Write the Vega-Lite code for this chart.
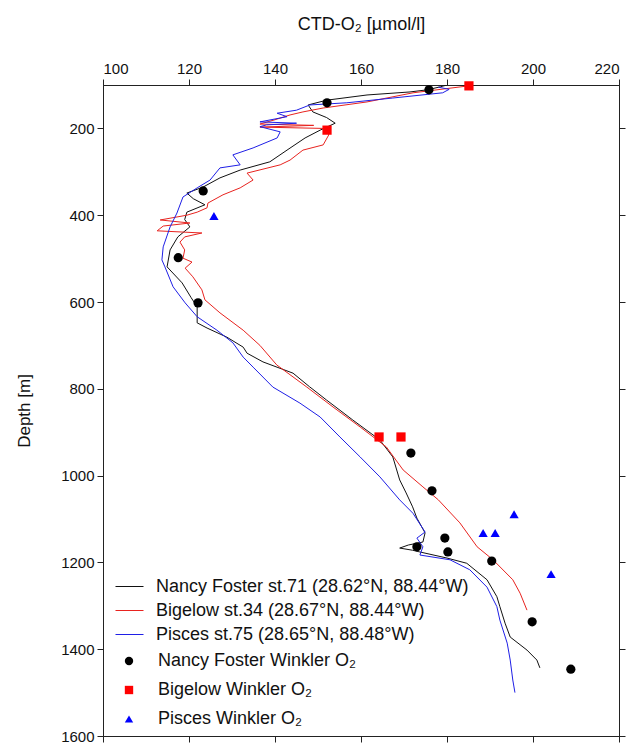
{
  "$schema": "https://vega.github.io/schema/vega-lite/v6.json",
  "autosize": "none",
  "width": 516,
  "height": 651,
  "padding": {"left": 103, "top": 85, "right": 17, "bottom": 13},
  "background": "white",
  "datasets": {
    "ctd": [
      {"series": "Nancy Foster st.71 (28.62°N, 88.44°W)", "depth": 100, "o2": 180},
      {"series": "Nancy Foster st.71 (28.62°N, 88.44°W)", "depth": 104, "o2": 178.5},
      {"series": "Nancy Foster st.71 (28.62°N, 88.44°W)", "depth": 111, "o2": 175.5},
      {"series": "Nancy Foster st.71 (28.62°N, 88.44°W)", "depth": 116, "o2": 171.4},
      {"series": "Nancy Foster st.71 (28.62°N, 88.44°W)", "depth": 123, "o2": 161.4},
      {"series": "Nancy Foster st.71 (28.62°N, 88.44°W)", "depth": 135, "o2": 152},
      {"series": "Nancy Foster st.71 (28.62°N, 88.44°W)", "depth": 146, "o2": 147.7},
      {"series": "Nancy Foster st.71 (28.62°N, 88.44°W)", "depth": 162, "o2": 148.8},
      {"series": "Nancy Foster st.71 (28.62°N, 88.44°W)", "depth": 175, "o2": 152},
      {"series": "Nancy Foster st.71 (28.62°N, 88.44°W)", "depth": 188, "o2": 154},
      {"series": "Nancy Foster st.71 (28.62°N, 88.44°W)", "depth": 204, "o2": 150.5},
      {"series": "Nancy Foster st.71 (28.62°N, 88.44°W)", "depth": 222, "o2": 147},
      {"series": "Nancy Foster st.71 (28.62°N, 88.44°W)", "depth": 250, "o2": 142.8},
      {"series": "Nancy Foster st.71 (28.62°N, 88.44°W)", "depth": 277, "o2": 138.8},
      {"series": "Nancy Foster st.71 (28.62°N, 88.44°W)", "depth": 296, "o2": 131.9},
      {"series": "Nancy Foster st.71 (28.62°N, 88.44°W)", "depth": 314, "o2": 127.2},
      {"series": "Nancy Foster st.71 (28.62°N, 88.44°W)", "depth": 335, "o2": 123.3},
      {"series": "Nancy Foster st.71 (28.62°N, 88.44°W)", "depth": 349, "o2": 119.5},
      {"series": "Nancy Foster st.71 (28.62°N, 88.44°W)", "depth": 362, "o2": 121},
      {"series": "Nancy Foster st.71 (28.62°N, 88.44°W)", "depth": 376, "o2": 123.7},
      {"series": "Nancy Foster st.71 (28.62°N, 88.44°W)", "depth": 393, "o2": 119.5},
      {"series": "Nancy Foster st.71 (28.62°N, 88.44°W)", "depth": 410, "o2": 119},
      {"series": "Nancy Foster st.71 (28.62°N, 88.44°W)", "depth": 427, "o2": 120.2},
      {"series": "Nancy Foster st.71 (28.62°N, 88.44°W)", "depth": 450, "o2": 117.4},
      {"series": "Nancy Foster st.71 (28.62°N, 88.44°W)", "depth": 480, "o2": 115.6},
      {"series": "Nancy Foster st.71 (28.62°N, 88.44°W)", "depth": 519, "o2": 114.9},
      {"series": "Nancy Foster st.71 (28.62°N, 88.44°W)", "depth": 556, "o2": 118.4},
      {"series": "Nancy Foster st.71 (28.62°N, 88.44°W)", "depth": 590, "o2": 120.5},
      {"series": "Nancy Foster st.71 (28.62°N, 88.44°W)", "depth": 611, "o2": 121.9},
      {"series": "Nancy Foster st.71 (28.62°N, 88.44°W)", "depth": 648, "o2": 121.9},
      {"series": "Nancy Foster st.71 (28.62°N, 88.44°W)", "depth": 660, "o2": 124.2},
      {"series": "Nancy Foster st.71 (28.62°N, 88.44°W)", "depth": 681, "o2": 128.8},
      {"series": "Nancy Foster st.71 (28.62°N, 88.44°W)", "depth": 704, "o2": 132.6},
      {"series": "Nancy Foster st.71 (28.62°N, 88.44°W)", "depth": 718, "o2": 133.5},
      {"series": "Nancy Foster st.71 (28.62°N, 88.44°W)", "depth": 738, "o2": 137.2},
      {"series": "Nancy Foster st.71 (28.62°N, 88.44°W)", "depth": 764, "o2": 144.2},
      {"series": "Nancy Foster st.71 (28.62°N, 88.44°W)", "depth": 795, "o2": 148},
      {"series": "Nancy Foster st.71 (28.62°N, 88.44°W)", "depth": 826, "o2": 152},
      {"series": "Nancy Foster st.71 (28.62°N, 88.44°W)", "depth": 872, "o2": 158.1},
      {"series": "Nancy Foster st.71 (28.62°N, 88.44°W)", "depth": 918, "o2": 164.4},
      {"series": "Nancy Foster st.71 (28.62°N, 88.44°W)", "depth": 957, "o2": 167.4},
      {"series": "Nancy Foster st.71 (28.62°N, 88.44°W)", "depth": 1010, "o2": 169},
      {"series": "Nancy Foster st.71 (28.62°N, 88.44°W)", "depth": 1040, "o2": 170.5},
      {"series": "Nancy Foster st.71 (28.62°N, 88.44°W)", "depth": 1072, "o2": 172},
      {"series": "Nancy Foster st.71 (28.62°N, 88.44°W)", "depth": 1098, "o2": 173},
      {"series": "Nancy Foster st.71 (28.62°N, 88.44°W)", "depth": 1132, "o2": 174.9},
      {"series": "Nancy Foster st.71 (28.62°N, 88.44°W)", "depth": 1153, "o2": 174.4},
      {"series": "Nancy Foster st.71 (28.62°N, 88.44°W)", "depth": 1160, "o2": 171},
      {"series": "Nancy Foster st.71 (28.62°N, 88.44°W)", "depth": 1167, "o2": 169},
      {"series": "Nancy Foster st.71 (28.62°N, 88.44°W)", "depth": 1172, "o2": 172},
      {"series": "Nancy Foster st.71 (28.62°N, 88.44°W)", "depth": 1176, "o2": 173.7},
      {"series": "Nancy Foster st.71 (28.62°N, 88.44°W)", "depth": 1190, "o2": 180},
      {"series": "Nancy Foster st.71 (28.62°N, 88.44°W)", "depth": 1202, "o2": 184.6},
      {"series": "Nancy Foster st.71 (28.62°N, 88.44°W)", "depth": 1240, "o2": 189.3},
      {"series": "Nancy Foster st.71 (28.62°N, 88.44°W)", "depth": 1279, "o2": 191.6},
      {"series": "Nancy Foster st.71 (28.62°N, 88.44°W)", "depth": 1302, "o2": 192.3},
      {"series": "Nancy Foster st.71 (28.62°N, 88.44°W)", "depth": 1340, "o2": 193.5},
      {"series": "Nancy Foster st.71 (28.62°N, 88.44°W)", "depth": 1372, "o2": 194.7},
      {"series": "Nancy Foster st.71 (28.62°N, 88.44°W)", "depth": 1402, "o2": 198.6},
      {"series": "Nancy Foster st.71 (28.62°N, 88.44°W)", "depth": 1425, "o2": 200.9},
      {"series": "Nancy Foster st.71 (28.62°N, 88.44°W)", "depth": 1443, "o2": 201.6},

      {"series": "Bigelow st.34 (28.67°N, 88.44°W)", "depth": 102, "o2": 185},
      {"series": "Bigelow st.34 (28.67°N, 88.44°W)", "depth": 118, "o2": 172.1},
      {"series": "Bigelow st.34 (28.67°N, 88.44°W)", "depth": 139, "o2": 161.4},
      {"series": "Bigelow st.34 (28.67°N, 88.44°W)", "depth": 153, "o2": 151.2},
      {"series": "Bigelow st.34 (28.67°N, 88.44°W)", "depth": 162, "o2": 146.5},
      {"series": "Bigelow st.34 (28.67°N, 88.44°W)", "depth": 169, "o2": 143.5},
      {"series": "Bigelow st.34 (28.67°N, 88.44°W)", "depth": 180, "o2": 140},
      {"series": "Bigelow st.34 (28.67°N, 88.44°W)", "depth": 190, "o2": 136.5},
      {"series": "Bigelow st.34 (28.67°N, 88.44°W)", "depth": 193, "o2": 149},
      {"series": "Bigelow st.34 (28.67°N, 88.44°W)", "depth": 197, "o2": 136.5},
      {"series": "Bigelow st.34 (28.67°N, 88.44°W)", "depth": 200, "o2": 151},
      {"series": "Bigelow st.34 (28.67°N, 88.44°W)", "depth": 204, "o2": 152},
      {"series": "Bigelow st.34 (28.67°N, 88.44°W)", "depth": 215, "o2": 152.5},
      {"series": "Bigelow st.34 (28.67°N, 88.44°W)", "depth": 238, "o2": 151.2},
      {"series": "Bigelow st.34 (28.67°N, 88.44°W)", "depth": 250, "o2": 146.5},
      {"series": "Bigelow st.34 (28.67°N, 88.44°W)", "depth": 273, "o2": 143.5},
      {"series": "Bigelow st.34 (28.67°N, 88.44°W)", "depth": 284, "o2": 141.2},
      {"series": "Bigelow st.34 (28.67°N, 88.44°W)", "depth": 303, "o2": 133.5},
      {"series": "Bigelow st.34 (28.67°N, 88.44°W)", "depth": 319, "o2": 134.9},
      {"series": "Bigelow st.34 (28.67°N, 88.44°W)", "depth": 337, "o2": 131.9},
      {"series": "Bigelow st.34 (28.67°N, 88.44°W)", "depth": 353, "o2": 127.9},
      {"series": "Bigelow st.34 (28.67°N, 88.44°W)", "depth": 372, "o2": 124.4},
      {"series": "Bigelow st.34 (28.67°N, 88.44°W)", "depth": 383, "o2": 124.2},
      {"series": "Bigelow st.34 (28.67°N, 88.44°W)", "depth": 393, "o2": 121.9},
      {"series": "Bigelow st.34 (28.67°N, 88.44°W)", "depth": 400, "o2": 119.5},
      {"series": "Bigelow st.34 (28.67°N, 88.44°W)", "depth": 411, "o2": 113.3},
      {"series": "Bigelow st.34 (28.67°N, 88.44°W)", "depth": 418, "o2": 120.2},
      {"series": "Bigelow st.34 (28.67°N, 88.44°W)", "depth": 425, "o2": 114},
      {"series": "Bigelow st.34 (28.67°N, 88.44°W)", "depth": 436, "o2": 112.6},
      {"series": "Bigelow st.34 (28.67°N, 88.44°W)", "depth": 441, "o2": 123},
      {"series": "Bigelow st.34 (28.67°N, 88.44°W)", "depth": 450, "o2": 119},
      {"series": "Bigelow st.34 (28.67°N, 88.44°W)", "depth": 462, "o2": 117.9},
      {"series": "Bigelow st.34 (28.67°N, 88.44°W)", "depth": 480, "o2": 119},
      {"series": "Bigelow st.34 (28.67°N, 88.44°W)", "depth": 499, "o2": 118.6},
      {"series": "Bigelow st.34 (28.67°N, 88.44°W)", "depth": 508, "o2": 120.7},
      {"series": "Bigelow st.34 (28.67°N, 88.44°W)", "depth": 522, "o2": 119.1},
      {"series": "Bigelow st.34 (28.67°N, 88.44°W)", "depth": 542, "o2": 120.9},
      {"series": "Bigelow st.34 (28.67°N, 88.44°W)", "depth": 572, "o2": 123},
      {"series": "Bigelow st.34 (28.67°N, 88.44°W)", "depth": 595, "o2": 123.7},
      {"series": "Bigelow st.34 (28.67°N, 88.44°W)", "depth": 625, "o2": 127.2},
      {"series": "Bigelow st.34 (28.67°N, 88.44°W)", "depth": 665, "o2": 132.6},
      {"series": "Bigelow st.34 (28.67°N, 88.44°W)", "depth": 700, "o2": 136.5},
      {"series": "Bigelow st.34 (28.67°N, 88.44°W)", "depth": 745, "o2": 140.4},
      {"series": "Bigelow st.34 (28.67°N, 88.44°W)", "depth": 796, "o2": 147.4},
      {"series": "Bigelow st.34 (28.67°N, 88.44°W)", "depth": 842, "o2": 153.5},
      {"series": "Bigelow st.34 (28.67°N, 88.44°W)", "depth": 888, "o2": 159.8},
      {"series": "Bigelow st.34 (28.67°N, 88.44°W)", "depth": 934, "o2": 165.9},
      {"series": "Bigelow st.34 (28.67°N, 88.44°W)", "depth": 987, "o2": 169.8},
      {"series": "Bigelow st.34 (28.67°N, 88.44°W)", "depth": 1026, "o2": 174.4},
      {"series": "Bigelow st.34 (28.67°N, 88.44°W)", "depth": 1056, "o2": 178},
      {"series": "Bigelow st.34 (28.67°N, 88.44°W)", "depth": 1109, "o2": 183},
      {"series": "Bigelow st.34 (28.67°N, 88.44°W)", "depth": 1164, "o2": 187},
      {"series": "Bigelow st.34 (28.67°N, 88.44°W)", "depth": 1194, "o2": 190.7},
      {"series": "Bigelow st.34 (28.67°N, 88.44°W)", "depth": 1240, "o2": 195.3},
      {"series": "Bigelow st.34 (28.67°N, 88.44°W)", "depth": 1271, "o2": 197},
      {"series": "Bigelow st.34 (28.67°N, 88.44°W)", "depth": 1310, "o2": 198.6},

      {"series": "Pisces st.75 (28.65°N, 88.48°W)", "depth": 105, "o2": 178},
      {"series": "Pisces st.75 (28.65°N, 88.48°W)", "depth": 110, "o2": 180.5},
      {"series": "Pisces st.75 (28.65°N, 88.48°W)", "depth": 118, "o2": 179},
      {"series": "Pisces st.75 (28.65°N, 88.48°W)", "depth": 130, "o2": 167.4},
      {"series": "Pisces st.75 (28.65°N, 88.48°W)", "depth": 141, "o2": 156.7},
      {"series": "Pisces st.75 (28.65°N, 88.48°W)", "depth": 146, "o2": 148.1},
      {"series": "Pisces st.75 (28.65°N, 88.48°W)", "depth": 158, "o2": 145},
      {"series": "Pisces st.75 (28.65°N, 88.48°W)", "depth": 165, "o2": 140.5},
      {"series": "Pisces st.75 (28.65°N, 88.48°W)", "depth": 173, "o2": 142.8},
      {"series": "Pisces st.75 (28.65°N, 88.48°W)", "depth": 185, "o2": 136.5},
      {"series": "Pisces st.75 (28.65°N, 88.48°W)", "depth": 188, "o2": 145},
      {"series": "Pisces st.75 (28.65°N, 88.48°W)", "depth": 192, "o2": 138},
      {"series": "Pisces st.75 (28.65°N, 88.48°W)", "depth": 196, "o2": 136.5},
      {"series": "Pisces st.75 (28.65°N, 88.48°W)", "depth": 208, "o2": 141.2},
      {"series": "Pisces st.75 (28.65°N, 88.48°W)", "depth": 222, "o2": 140.5},
      {"series": "Pisces st.75 (28.65°N, 88.48°W)", "depth": 245, "o2": 134.9},
      {"series": "Pisces st.75 (28.65°N, 88.48°W)", "depth": 261, "o2": 130.2},
      {"series": "Pisces st.75 (28.65°N, 88.48°W)", "depth": 284, "o2": 131.9},
      {"series": "Pisces st.75 (28.65°N, 88.48°W)", "depth": 291, "o2": 127.2},
      {"series": "Pisces st.75 (28.65°N, 88.48°W)", "depth": 319, "o2": 124.9},
      {"series": "Pisces st.75 (28.65°N, 88.48°W)", "depth": 337, "o2": 121.9},
      {"series": "Pisces st.75 (28.65°N, 88.48°W)", "depth": 358, "o2": 118.6},
      {"series": "Pisces st.75 (28.65°N, 88.48°W)", "depth": 395, "o2": 117.2},
      {"series": "Pisces st.75 (28.65°N, 88.48°W)", "depth": 427, "o2": 115.6},
      {"series": "Pisces st.75 (28.65°N, 88.48°W)", "depth": 473, "o2": 114},
      {"series": "Pisces st.75 (28.65°N, 88.48°W)", "depth": 503, "o2": 113.7},
      {"series": "Pisces st.75 (28.65°N, 88.48°W)", "depth": 519, "o2": 114.4},
      {"series": "Pisces st.75 (28.65°N, 88.48°W)", "depth": 565, "o2": 116.3},
      {"series": "Pisces st.75 (28.65°N, 88.48°W)", "depth": 602, "o2": 119.1},
      {"series": "Pisces st.75 (28.65°N, 88.48°W)", "depth": 634, "o2": 121.9},
      {"series": "Pisces st.75 (28.65°N, 88.48°W)", "depth": 665, "o2": 126.5},
      {"series": "Pisces st.75 (28.65°N, 88.48°W)", "depth": 694, "o2": 130.2},
      {"series": "Pisces st.75 (28.65°N, 88.48°W)", "depth": 727, "o2": 132.6},
      {"series": "Pisces st.75 (28.65°N, 88.48°W)", "depth": 750, "o2": 134.9},
      {"series": "Pisces st.75 (28.65°N, 88.48°W)", "depth": 796, "o2": 139.5},
      {"series": "Pisces st.75 (28.65°N, 88.48°W)", "depth": 833, "o2": 145.8},
      {"series": "Pisces st.75 (28.65°N, 88.48°W)", "depth": 865, "o2": 150.5},
      {"series": "Pisces st.75 (28.65°N, 88.48°W)", "depth": 911, "o2": 155.1},
      {"series": "Pisces st.75 (28.65°N, 88.48°W)", "depth": 957, "o2": 159.8},
      {"series": "Pisces st.75 (28.65°N, 88.48°W)", "depth": 1003, "o2": 164.4},
      {"series": "Pisces st.75 (28.65°N, 88.48°W)", "depth": 1056, "o2": 169},
      {"series": "Pisces st.75 (28.65°N, 88.48°W)", "depth": 1087, "o2": 172.1},
      {"series": "Pisces st.75 (28.65°N, 88.48°W)", "depth": 1130, "o2": 174.9},
      {"series": "Pisces st.75 (28.65°N, 88.48°W)", "depth": 1144, "o2": 173},
      {"series": "Pisces st.75 (28.65°N, 88.48°W)", "depth": 1164, "o2": 174.4},
      {"series": "Pisces st.75 (28.65°N, 88.48°W)", "depth": 1183, "o2": 173.7},
      {"series": "Pisces st.75 (28.65°N, 88.48°W)", "depth": 1194, "o2": 180.7},
      {"series": "Pisces st.75 (28.65°N, 88.48°W)", "depth": 1217, "o2": 185.3},
      {"series": "Pisces st.75 (28.65°N, 88.48°W)", "depth": 1257, "o2": 189.3},
      {"series": "Pisces st.75 (28.65°N, 88.48°W)", "depth": 1302, "o2": 191.6},
      {"series": "Pisces st.75 (28.65°N, 88.48°W)", "depth": 1333, "o2": 192.3},
      {"series": "Pisces st.75 (28.65°N, 88.48°W)", "depth": 1386, "o2": 194},
      {"series": "Pisces st.75 (28.65°N, 88.48°W)", "depth": 1425, "o2": 194.7},
      {"series": "Pisces st.75 (28.65°N, 88.48°W)", "depth": 1471, "o2": 195.3},
      {"series": "Pisces st.75 (28.65°N, 88.48°W)", "depth": 1500, "o2": 195.8}
    ],
    "winkler": [
      {"sample": "Nancy Foster Winkler O₂", "depth": 111, "o2": 175.8},
      {"sample": "Nancy Foster Winkler O₂", "depth": 141, "o2": 152.1},
      {"sample": "Nancy Foster Winkler O₂", "depth": 344, "o2": 123.3},
      {"sample": "Nancy Foster Winkler O₂", "depth": 498, "o2": 117.5},
      {"sample": "Nancy Foster Winkler O₂", "depth": 602, "o2": 122.1},
      {"sample": "Nancy Foster Winkler O₂", "depth": 948, "o2": 171.6},
      {"sample": "Nancy Foster Winkler O₂", "depth": 1035, "o2": 176.5},
      {"sample": "Nancy Foster Winkler O₂", "depth": 1144, "o2": 179.5},
      {"sample": "Nancy Foster Winkler O₂", "depth": 1176, "o2": 180.2},
      {"sample": "Nancy Foster Winkler O₂", "depth": 1164, "o2": 173},
      {"sample": "Nancy Foster Winkler O₂", "depth": 1197, "o2": 190.4},
      {"sample": "Nancy Foster Winkler O₂", "depth": 1337, "o2": 199.8},
      {"sample": "Nancy Foster Winkler O₂", "depth": 1446, "o2": 208.8},
      {"sample": "Bigelow Winkler O₂", "depth": 102, "o2": 185.1},
      {"sample": "Bigelow Winkler O₂", "depth": 204, "o2": 152.1},
      {"sample": "Bigelow Winkler O₂", "depth": 911, "o2": 164.2},
      {"sample": "Bigelow Winkler O₂", "depth": 911, "o2": 169.3},
      {"sample": "Pisces Winkler O₂", "depth": 402, "o2": 125.8},
      {"sample": "Pisces Winkler O₂", "depth": 1089, "o2": 195.6},
      {"sample": "Pisces Winkler O₂", "depth": 1132, "o2": 188.4},
      {"sample": "Pisces Winkler O₂", "depth": 1132, "o2": 191.2},
      {"sample": "Pisces Winkler O₂", "depth": 1227, "o2": 204.2}
    ]
  },
  "layer": [
    {
      "data": {"name": "ctd"},
      "mark": {"type": "line", "strokeWidth": 1, "clip": true},
      "encoding": {
        "x": {
          "field": "o2", "type": "quantitative",
          "scale": {"domain": [100, 220], "nice": false, "zero": false},
          "axis": {"orient": "top", "title": "CTD-O₂ [µmol/l]", "values": [100, 120, 140, 160, 180, 200, 220], "titleY": -56, "titleBaseline": "alphabetic", "titleFontSize": 18}
        },
        "y": {
          "field": "depth", "type": "quantitative",
          "scale": {"domain": [100, 1600], "reverse": true, "nice": false, "zero": false},
          "axis": {"orient": "left", "title": "Depth [m]", "format": "d", "values": [200, 400, 600, 800, 1000, 1200, 1400, 1600], "titleX": -70}
        },
        "stroke": {
          "field": "series", "type": "nominal",
          "scale": {
            "domain": ["Nancy Foster st.71 (28.62°N, 88.44°W)", "Bigelow st.34 (28.67°N, 88.44°W)", "Pisces st.75 (28.65°N, 88.48°W)"],
            "range": ["#111111", "#e8231f", "#1f1fe6"]
          },
          "legend": {
            "title": null, "orient": "none", "legendX": 12, "legendY": 487,
            "symbolType": "stroke", "symbolSize": 784, "symbolStrokeWidth": 1,
            "labelFontSize": 18, "labelOffset": 12, "rowPadding": -4, "labelLimit": 0, "labelColor": "#111111"
          }
        },
        "order": {"field": "depth", "type": "quantitative"}
      }
    },
    {
      "data": {"name": "winkler"},
      "mark": {"type": "point", "filled": true, "size": 85, "opacity": 1},
      "encoding": {
        "x": {
          "field": "o2", "type": "quantitative",
          "scale": {"domain": [100, 220], "nice": false, "zero": false},
          "axis": {"orient": "bottom", "title": null, "labels": false, "values": [100, 120, 140, 160, 180, 200, 220]}
        },
        "y": {
          "field": "depth", "type": "quantitative",
          "scale": {"domain": [100, 1600], "reverse": true, "nice": false, "zero": false},
          "axis": {"orient": "right", "title": null, "labels": false, "values": [200, 400, 600, 800, 1000, 1200, 1400, 1600]}
        },
        "shape": {
          "field": "sample", "type": "nominal",
          "scale": {
            "domain": ["Nancy Foster Winkler O₂", "Bigelow Winkler O₂", "Pisces Winkler O₂"],
            "range": ["circle", "square", "triangle-up"]
          },
          "legend": {
            "title": null, "orient": "none", "legendX": 17, "legendY": 567,
            "symbolSize": 70, "labelFontSize": 18, "labelOffset": 20, "rowPadding": 11, "labelLimit": 0, "labelColor": "#111111"
          }
        },
        "fill": {
          "field": "sample", "type": "nominal",
          "scale": {
            "domain": ["Nancy Foster Winkler O₂", "Bigelow Winkler O₂", "Pisces Winkler O₂"],
            "range": ["#000000", "#ff0000", "#0000ff"]
          },
          "legend": {
            "title": null, "orient": "none", "legendX": 17, "legendY": 567,
            "symbolSize": 70, "labelFontSize": 18, "labelOffset": 20, "rowPadding": 11, "labelLimit": 0, "labelColor": "#111111"
          }
        }
      }
    }
  ],
  "resolve": {"axis": {"x": "independent", "y": "independent"}},
  "config": {
    "font": "Liberation Sans",
    "view": {"stroke": "#222222", "strokeWidth": 1},
    "axis": {
      "grid": false, "domainColor": "#222222", "tickColor": "#222222", "tickSize": 6,
      "labelFont": "Liberation Sans", "labelFontSize": 15, "labelColor": "#111111", "labelPadding": 3,
      "titleFont": "Liberation Sans", "titleFontSize": 17, "titleFontWeight": "normal", "titleColor": "#111111"
    },
    "legend": {"labelFont": "Liberation Sans", "symbolStrokeWidth": 0}
  }
}
